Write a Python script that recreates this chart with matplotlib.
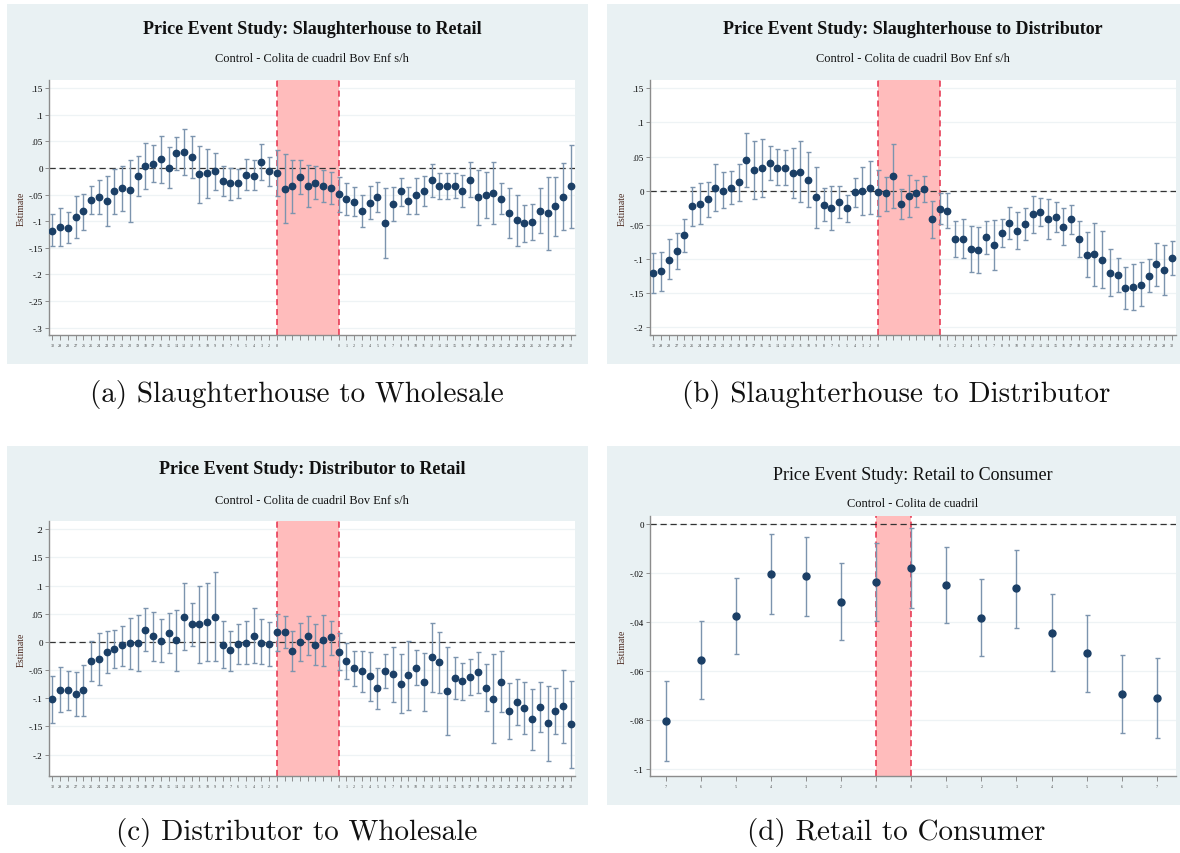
import numpy as np
import matplotlib
matplotlib.use("Agg")
import matplotlib.pyplot as plt
from matplotlib.patches import Rectangle

# ---------------------------------------------------------------- data
pre_labels = [str(k) for k in range(30, 1, -1)] + ["0"]
mid_labels = [""] * 7
post_labels = ["0"] + [str(k) for k in range(1, 31)]
long_labels = pre_labels + mid_labels + post_labels

a_est = [-0.118, -0.110, -0.112, -0.092, -0.081, -0.060, -0.055, -0.061, -0.044, -0.038,
         -0.042, -0.014, 0.004, 0.008, 0.017, 0.000, 0.028, 0.031, 0.021, -0.011,
         -0.010, -0.006, -0.024, -0.029, -0.029, -0.013, -0.014, 0.011, -0.006, -0.009,
         -0.039, -0.034, -0.016, -0.034, -0.028, -0.033, -0.037,
         -0.049,
         -0.058, -0.063, -0.081, -0.065, -0.055, -0.103, -0.067, -0.044, -0.061, -0.051,
         -0.043, -0.023, -0.034, -0.034, -0.033, -0.043, -0.023, -0.055, -0.051, -0.047,
         -0.058, -0.084, -0.098, -0.103, -0.101, -0.080, -0.085, -0.072, -0.054, -0.034]
a_hi = [-0.087, -0.075, -0.083, -0.052, -0.048, -0.034, -0.022, -0.015, -0.002, 0.004,
        0.016, 0.023, 0.048, 0.043, 0.060, 0.039, 0.058, 0.073, 0.060, 0.042,
        0.036, 0.029, 0.004, 0.001, -0.001, 0.017, 0.015, 0.045, 0.021, 0.034,
        0.026, 0.016, 0.016, 0.006, 0.004, -0.003, -0.007,
        -0.017,
        -0.029, -0.035, -0.051, -0.034, -0.027, -0.037, -0.036, -0.018, -0.036, -0.018,
        -0.015, 0.008, -0.009, -0.009, -0.009, -0.013, 0.011, -0.003, -0.008, 0.012,
        -0.029, -0.038, -0.050, -0.069, -0.068, -0.037, -0.017, -0.017, 0.010, 0.044]
a_lo = [-0.147, -0.146, -0.141, -0.132, -0.116, -0.086, -0.086, -0.108, -0.086, -0.080,
        -0.101, -0.053, -0.040, -0.026, -0.028, -0.038, -0.003, -0.013, -0.019, -0.065,
        -0.056, -0.041, -0.053, -0.060, -0.057, -0.041, -0.042, -0.023, -0.033, -0.052,
        -0.103, -0.085, -0.048, -0.074, -0.059, -0.063, -0.068,
        -0.082,
        -0.088, -0.091, -0.111, -0.095, -0.082, -0.169, -0.099, -0.071, -0.086, -0.086,
        -0.071, -0.055, -0.059, -0.058, -0.057, -0.073, -0.055, -0.107, -0.094, -0.105,
        -0.086, -0.131, -0.147, -0.139, -0.135, -0.123, -0.154, -0.127, -0.117, -0.113]

b_est = [-0.120, -0.118, -0.101, -0.088, -0.065, -0.023, -0.019, -0.012, 0.004, 0.000,
         0.004, 0.013, 0.045, 0.030, 0.033, 0.041, 0.034, 0.034, 0.026, 0.028,
         0.016, -0.009, -0.021, -0.025, -0.017, -0.026, -0.002, 0.000, 0.004, -0.002,
         -0.004, 0.021, -0.020, -0.007, -0.004, 0.003, -0.042,
         -0.027,
         -0.029, -0.071, -0.071, -0.085, -0.087, -0.068, -0.079, -0.062, -0.047, -0.059,
         -0.048, -0.034, -0.031, -0.041, -0.038, -0.053, -0.041, -0.071, -0.094, -0.093,
         -0.101, -0.120, -0.124, -0.142, -0.141, -0.138, -0.125, -0.108, -0.116, -0.099]
b_hi = [-0.091, -0.089, -0.070, -0.062, -0.041, 0.005, 0.012, 0.013, 0.039, 0.027,
        0.029, 0.039, 0.085, 0.073, 0.076, 0.065, 0.061, 0.060, 0.062, 0.073,
        0.057, 0.035, 0.004, 0.007, 0.007, -0.006, 0.019, 0.035, 0.043, 0.031,
        0.020, 0.069, 0.002, 0.023, 0.016, 0.022, -0.015,
        -0.003,
        -0.003, -0.044, -0.042, -0.051, -0.053, -0.044, -0.043, -0.041, -0.024, -0.031,
        -0.025, -0.007, -0.010, -0.012, -0.017, -0.026, -0.021, -0.045, -0.061, -0.047,
        -0.059, -0.085, -0.099, -0.112, -0.107, -0.105, -0.100, -0.077, -0.080, -0.074]
b_lo = [-0.150, -0.147, -0.130, -0.114, -0.090, -0.051, -0.048, -0.038, -0.030, -0.026,
        -0.020, -0.015, 0.005, -0.012, -0.009, 0.016, 0.008, 0.009, -0.010, -0.016,
        -0.024, -0.054, -0.045, -0.058, -0.040, -0.046, -0.024, -0.035, -0.034, -0.037,
        -0.029, -0.026, -0.042, -0.038, -0.024, -0.016, -0.069,
        -0.049,
        -0.055, -0.097, -0.099, -0.119, -0.120, -0.093, -0.116, -0.082, -0.071, -0.086,
        -0.072, -0.062, -0.052, -0.070, -0.060, -0.080, -0.063, -0.097, -0.127, -0.139,
        -0.143, -0.154, -0.149, -0.173, -0.174, -0.169, -0.149, -0.139, -0.152, -0.124]

c_est = [-0.102, -0.085, -0.085, -0.093, -0.086, -0.034, -0.030, -0.018, -0.012, -0.006,
         -0.002, -0.002, 0.022, 0.010, 0.002, 0.015, 0.003, 0.045, 0.031, 0.031,
         0.036, 0.045, -0.005, -0.015, -0.004, -0.001, 0.011, -0.001, -0.004, 0.017,
         0.018, -0.016, 0.000, 0.011, -0.005, 0.003, 0.008,
         -0.017,
         -0.033, -0.047, -0.051, -0.060, -0.082, -0.051, -0.057, -0.075, -0.059, -0.046,
         -0.072, -0.027, -0.036, -0.087, -0.064, -0.069, -0.062, -0.054, -0.082, -0.101,
         -0.071, -0.123, -0.106, -0.118, -0.137, -0.116, -0.144, -0.122, -0.114, -0.146]
c_hi = [-0.060, -0.044, -0.051, -0.054, -0.041, 0.002, 0.016, 0.020, 0.021, 0.028,
        0.043, 0.048, 0.060, 0.054, 0.041, 0.051, 0.057, 0.105, 0.069, 0.100,
        0.105, 0.125, 0.037, 0.020, 0.032, 0.037, 0.060, 0.040, 0.035, 0.050,
        0.046, 0.020, 0.033, 0.046, 0.031, 0.047, 0.038,
        0.016,
        -0.001, -0.016, -0.016, -0.017, -0.046, -0.021, -0.009, -0.022, 0.002, -0.015,
        -0.020, 0.033, 0.018, -0.009, -0.026, -0.037, -0.030, -0.018, -0.040, -0.021,
        -0.016, -0.073, -0.065, -0.072, -0.083, -0.072, -0.078, -0.081, -0.049, -0.069]
c_lo = [-0.144, -0.125, -0.121, -0.132, -0.131, -0.069, -0.076, -0.056, -0.046, -0.042,
        -0.048, -0.051, -0.016, -0.034, -0.036, -0.020, -0.051, -0.015, -0.007, -0.038,
        -0.033, -0.034, -0.047, -0.051, -0.039, -0.040, -0.038, -0.040, -0.042, -0.016,
        -0.010, -0.052, -0.034, -0.023, -0.041, -0.043, -0.024,
        -0.049,
        -0.065, -0.079, -0.088, -0.104, -0.119, -0.082, -0.107, -0.127, -0.121, -0.076,
        -0.123, -0.089, -0.091, -0.165, -0.102, -0.103, -0.095, -0.090, -0.122, -0.180,
        -0.125, -0.172, -0.147, -0.164, -0.191, -0.159, -0.211, -0.163, -0.180, -0.224]

d_labels = ["7", "6", "5", "4", "3", "2", "0", "0", "1", "2", "3", "4", "5", "6", "7"]
d_est = [-0.0804, -0.0557, -0.0375, -0.0205, -0.0213, -0.0317, -0.0236,
         -0.0179, -0.0250, -0.0382, -0.0263, -0.0443, -0.0527, -0.0696, -0.0711]
d_hi = [-0.0643, -0.0397, -0.0221, -0.0042, -0.0052, -0.0160, -0.0078,
        -0.0018, -0.0094, -0.0225, -0.0104, -0.0285, -0.0371, -0.0536, -0.0547]
d_lo = [-0.0966, -0.0716, -0.0529, -0.0366, -0.0375, -0.0473, -0.0394,
        -0.0341, -0.0405, -0.0539, -0.0423, -0.0602, -0.0685, -0.0854, -0.0873]

# ---------------------------------------------------------------- style
W, H = 1180, 854
BG = "#e9f1f3"
DOT = "#1b3f66"
CI = "#7c94ae"
RED = "#e5304c"
SHADE = "#ffbcbc"
SERIF = ["Liberation Serif", "DejaVu Serif"]
CAPTION = ["cmr10", "DejaVu Serif"]

plt.rcParams["font.family"] = SERIF
fig = plt.figure(figsize=(W / 100, H / 100), dpi=100)
fig.patch.set_facecolor("white")


def fx(x):
    return x / W


def fy(y):
    return 1 - y / H


def panel(bg, box, est, lo, hi, labels, window, yticks, yfmt, ylim,
          title, bold, tsize, ty, subtitle, sy, caption, cx, cy, msize, xsize):
    l, t, r, b = bg
    fig.patches.append(Rectangle((fx(l), fy(b)), fx(r - l), (b - t) / H,
                                 transform=fig.transFigure, facecolor=BG,
                                 edgecolor="none", zorder=-5))
    al, at, ar, ab = box
    ax = fig.add_axes([fx(al), fy(ab), fx(ar - al), (ab - at) / H])
    ax.set_zorder(1)
    ax.set_facecolor("white")
    est = np.asarray(est)
    lo = np.asarray(lo)
    hi = np.asarray(hi)
    x = np.arange(len(est))

    ax.axvspan(window[0], window[1], color=SHADE, lw=0, zorder=1)
    for w in window:
        ax.axvline(w, color=RED, lw=1.1, dashes=(4, 2.5), zorder=2)
    for yt in yticks:
        ax.axhline(yt, color="#eef3f5", lw=0.9, zorder=0.5)
    ax.axhline(0, color="#333333", lw=0.9, dashes=(5, 3), zorder=2.5)

    ax.errorbar(x, est, yerr=np.vstack([est - lo, hi - est]), fmt="none",
                ecolor=CI, elinewidth=1.0, capsize=1.8, capthick=1.0, zorder=3)
    ax.plot(x, est, "o", ms=msize, color=DOT, mec=DOT, zorder=4)

    ax.set_xlim(-0.45, len(est) - 0.45)
    ax.set_ylim(*ylim)
    ax.set_xticks(x)
    ax.set_xticklabels(labels, fontsize=xsize, color="#444444")
    ax.set_yticks(yticks)
    ax.set_yticklabels([yfmt(v) for v in yticks], fontsize=6.5)
    for s in ("top", "right"):
        ax.spines[s].set_visible(False)
    for s in ("left", "bottom"):
        ax.spines[s].set_color("#8c8c8c")
        ax.spines[s].set_linewidth(1.0)
    ax.tick_params(axis="y", length=3, width=0.7, color="#8c8c8c", pad=1.5)
    ax.tick_params(axis="x", length=3.5, width=0.7, color="#8c8c8c", pad=2)

    fig.text(fx(al - 28), fy((at + ab) / 2), "Estimate", rotation=90,
             ha="center", va="center", fontsize=7, color="#4d2a20")
    xc = fx((al + ar) / 2)
    fig.text(xc, fy(ty), title, ha="center", va="center", fontsize=tsize,
             fontweight="bold" if bold else "normal", color="#111111")
    fig.text(xc, fy(sy), subtitle, ha="center", va="center", fontsize=8.9,
             color="#111111")
    fig.text(fx(cx), fy(cy), caption, ha="center", va="center", fontsize=21,
             family=CAPTION, color="#111111")
    return ax


def fmt_short(v):
    v = round(v, 3)
    if v == 0:
        return "0"
    s = ("%g" % v)
    return s.replace("0.", ".")


sub_long = "Control - Colita de cuadril Bov Enf s/h"
win = (29, 37)

panel((7, 5, 588, 365), (49, 81, 575, 336), a_est, a_lo, a_hi, long_labels, win,
      [0.15, 0.1, 0.05, 0, -0.05, -0.1, -0.15, -0.2, -0.25, -0.3], fmt_short,
      (-0.3139, 0.1656), "Price Event Study: Slaughterhouse to Retail", True, 13, 29,
      sub_long, 59.5, "(a) Slaughterhouse to Wholesale", 297, 395, 4.6, 3)

panel((607, 5, 1180, 365), (650, 81, 1176, 336), b_est, b_lo, b_hi, long_labels, win,
      [0.15, 0.1, 0.05, 0, -0.05, -0.1, -0.15, -0.2], fmt_short,
      (-0.2113, 0.1622), "Price Event Study: Slaughterhouse to Distributor", True, 13, 29,
      sub_long, 59.5, "(b) Slaughterhouse to Distributor", 896, 395, 4.6, 3)

panel((7, 447, 588, 806), (49, 522, 575, 777), c_est, c_lo, c_hi, long_labels, win,
      [0.2, 0.15, 0.1, 0.05, 0, -0.05, -0.1, -0.15, -0.2], fmt_short,
      (-0.238, 0.2147), "Price Event Study: Distributor to Retail", True, 13, 470,
      sub_long, 501, "(c) Distributor to Wholesale", 297, 833, 4.6, 3)

panel((607, 447, 1180, 806), (650, 517, 1176, 777), d_est, d_lo, d_hi, d_labels, (6, 7),
      [0, -0.02, -0.04, -0.06, -0.08, -0.1], fmt_short,
      (-0.1029, 0.0033), "Price Event Study: Retail to Consumer", False, 13, 476,
      "Control - Colita de cuadril", 504, "(d) Retail to Consumer", 896, 833, 5.0, 3)

fig.savefig("out.png", dpi=100, facecolor="white")
